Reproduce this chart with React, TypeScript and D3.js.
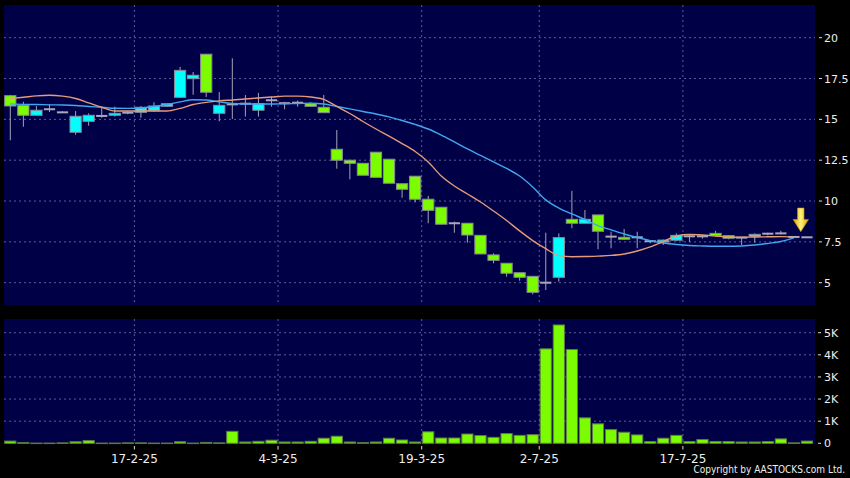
import React from "react";
import * as d3 from "d3";

const dates = [
  "3-2-25","4-2-25","5-2-25","6-2-25","7-2-25","10-2-25","11-2-25","12-2-25","13-2-25","14-2-25",
  "17-2-25","18-2-25","19-2-25","20-2-25","21-2-25","24-2-25","25-2-25","26-2-25","27-2-25","28-2-25",
  "3-3-25","4-3-25","5-3-25","6-3-25","7-3-25","10-3-25","11-3-25","12-3-25","13-3-25","14-3-25",
  "17-3-25","18-3-25","19-3-25","20-3-25","21-3-25","24-3-25","25-3-25","26-3-25","27-3-25","28-3-25",
  "31-3-25","2-7-25","3-7-25","4-7-25","7-7-25","8-7-25","9-7-25","10-7-25","11-7-25","14-7-25",
  "15-7-25","16-7-25","17-7-25","18-7-25","21-7-25","22-7-25","23-7-25","24-7-25","25-7-25","28-7-25",
  "29-7-25","30-7-25",
];

const opens = [16.45,15.86,15.25,15.62,15.43,14.21,14.88,15.21,15.25,15.41,15.43,15.53,15.8,16.35,17.49,18.99,15.37,15.92,15.96,15.56,16.17,15.99,16.02,15.96,15.74,13.17,12.5,12.31,12.99,12.56,11.06,11.52,10.11,9.62,8.64,8.64,7.9,6.7,6.19,5.61,5.39,5.0,5.33,8.88,8.64,9.15,7.82,7.78,7.78,7.54,7.49,7.6,7.84,7.84,8.02,7.88,7.76,7.84,8.0,8.02,7.8,7.78];
const highs = [16.5,16.08,15.82,15.94,15.5,15.51,15.37,15.72,15.78,15.51,15.82,16.05,15.98,18.21,17.9,18.99,16.68,18.74,16.49,16.62,16.39,16.07,16.15,16.05,16.49,14.35,12.5,12.31,12.99,12.56,11.06,11.52,10.31,9.62,8.74,8.64,7.9,6.8,6.19,5.61,5.39,8.06,8.02,10.62,9.45,9.15,8.12,8.29,8.12,7.6,7.64,8.02,7.94,7.88,8.17,7.9,7.8,8.02,8.06,8.18,7.86,7.8];
const lows = [13.72,14.55,15.25,15.45,15.4,14.06,14.61,15.1,15.17,15.31,15.1,15.47,15.78,16.31,16.51,16.37,14.88,15.02,15.17,15.17,15.78,15.62,15.78,15.76,15.41,11.98,11.33,11.58,11.45,11.09,10.2,9.92,8.64,8.58,8.06,7.45,6.76,6.19,5.37,5.12,4.29,4.55,5.06,8.33,8.64,7.05,7.11,7.62,7.11,7.42,7.31,7.55,7.49,7.7,7.88,7.66,7.31,7.45,7.9,7.96,7.74,7.76];
const closes = [15.82,15.25,15.56,15.62,15.43,15.19,15.25,15.21,15.37,15.41,15.74,15.82,15.96,18.0,17.7,16.66,15.86,15.92,15.96,15.96,16.17,15.99,16.02,15.8,15.41,12.5,12.31,11.58,11.45,11.09,10.72,10.11,9.43,8.58,8.64,7.92,6.76,6.37,5.58,5.33,4.41,5.0,7.76,8.64,8.88,8.15,7.82,7.66,7.78,7.54,7.61,7.9,7.84,7.84,7.88,7.72,7.76,7.96,8.0,8.02,7.8,7.78];

// volume in thousands
const volumes = [0.1,0.03,0.01,0.01,0.02,0.07,0.12,0.01,0.01,0.02,0.02,0.01,0.01,0.07,0.01,0.04,0.02,0.54,0.06,0.09,0.14,0.06,0.06,0.09,0.23,0.32,0.06,0.03,0.06,0.23,0.15,0.06,0.52,0.24,0.24,0.42,0.35,0.27,0.44,0.36,0.39,4.27,5.35,4.24,1.15,0.88,0.62,0.5,0.38,0.08,0.23,0.36,0.08,0.17,0.08,0.08,0.06,0.06,0.08,0.2,0.02,0.1];

const maShort = [16.27,16.35,16.44,16.48,16.42,16.28,16.01,15.74,15.51,15.51,15.51,15.51,15.51,15.67,15.91,16.04,16.13,16.19,16.25,16.31,16.37,16.42,16.42,16.37,16.22,15.79,15.36,14.87,14.41,13.98,13.52,13.03,12.39,11.53,10.92,10.43,9.94,9.39,8.81,8.17,7.58,7.08,6.66,6.59,6.6,6.63,6.67,6.76,6.94,7.19,7.52,7.86,7.95,7.92,7.86,7.8,7.78,7.8,7.81,7.82,7.8];
const maLong = [15.94,15.92,15.91,15.89,15.88,15.85,15.79,15.74,15.68,15.67,15.7,15.79,15.91,16.07,16.2,16.19,16.07,15.97,15.94,15.94,15.94,15.96,15.97,15.99,15.94,15.79,15.64,15.48,15.33,15.15,14.93,14.69,14.41,14.04,13.62,13.19,12.79,12.39,12.0,11.53,10.86,10.07,9.57,9.21,8.87,8.5,8.23,7.98,7.77,7.58,7.43,7.34,7.28,7.25,7.23,7.23,7.25,7.31,7.4,7.52,7.74];

const priceTicks = [5, 7.5, 10, 12.5, 15, 17.5, 20];
const volTicks = [0, 1, 2, 3, 4, 5];
const volTickLabels = ["0", "1K", "2K", "3K", "4K", "5K"];
const dateTicks = ["17-2-25", "4-3-25", "19-3-25", "2-7-25", "17-7-25"];

const W = 850;
const H = 478;
const panelL = 4;
const panelR = 815;
const priceTop = 5;
const priceBot = 305;
const volTop = 319;
const volBot = 444;

const GREEN = "#7cfc00";
const CYAN = "#00ffff";
const PANEL = "#000046";
const GRID = "#5c5c98";
const FONT = "DejaVu Sans, sans-serif";

export default function App() {
  const x = d3
    .scaleBand<string>()
    .domain(dates)
    .range([3.77, 813.5])
    .paddingInner(0.14)
    .paddingOuter(0.07);
  const bw = x.bandwidth();
  const step = x.step();
  const cx = (i: number) => (x(dates[i]) as number) + bw / 2;
  const edge = (d: string) => (x(d) as number) - (step * 0.14) / 2;

  const y = d3.scaleLinear().domain([5, 20]).range([282.7, 37.7]);
  const yv = d3.scaleLinear().domain([0, 5]).range([443.3, 332.7]);

  const line = d3
    .line<number>()
    .x((_, i) => cx(i))
    .y((v) => y(v))
    .curve(d3.curveMonotoneX);

  return (
    <svg
      width={W}
      height={H}
      style={{ position: "fixed", left: 0, top: 0, display: "block" }}
      fontFamily={FONT}
    >
      <defs>
        <linearGradient id="arrowGrad" x1="0" x2="1" y1="0" y2="0">
          <stop offset="0" stopColor="#e0a000" />
          <stop offset="0.5" stopColor="#fff27a" />
          <stop offset="1" stopColor="#e0a000" />
        </linearGradient>
      </defs>
      <rect x={0} y={0} width={W} height={H} fill="#000" />
      <rect x={panelL} y={priceTop} width={panelR - panelL} height={priceBot - priceTop} fill={PANEL} />
      <rect x={panelL} y={volTop} width={panelR - panelL} height={volBot - volTop} fill={PANEL} />

      {/* price gridlines */}
      {priceTicks.map((t) => (
        <g key={"pt" + t}>
          <line x1={panelL} x2={panelR} y1={y(t)} y2={y(t)} stroke={GRID} strokeDasharray="2,3" strokeWidth={1} />
          <line x1={819} x2={822} y1={y(t)} y2={y(t)} stroke="#ddd" />
          <text x={824} y={y(t) + 4} fill="#eee" fontSize={11}>
            {t}
          </text>
        </g>
      ))}
      {/* volume gridlines */}
      {volTicks.map((t, i) => (
        <g key={"vt" + t}>
          {t > 0 && (
            <line x1={panelL} x2={panelR} y1={yv(t)} y2={yv(t)} stroke={GRID} strokeDasharray="2,3" strokeWidth={1} />
          )}
          <line x1={818} x2={821} y1={yv(t)} y2={yv(t)} stroke="#ddd" />
          <text x={824} y={yv(t) + 4} fill="#eee" fontSize={11}>
            {volTickLabels[i]}
          </text>
        </g>
      ))}
      {/* vertical date gridlines */}
      {dateTicks.map((d) => (
        <g key={"dt" + d}>
          <line x1={edge(d)} x2={edge(d)} y1={priceTop} y2={priceBot} stroke={GRID} strokeDasharray="2,3" />
          <line x1={edge(d)} x2={edge(d)} y1={volTop} y2={volBot} stroke={GRID} strokeDasharray="2,3" />
          <line x1={edge(d)} x2={edge(d)} y1={446} y2={449.5} stroke="#ddd" />
          <text x={edge(d)} y={462.5} fill="#eee" fontSize={12} textAnchor="middle">
            {d}
          </text>
        </g>
      ))}

      {/* volume bars */}
      {volumes.map((v, i) => (
        <rect
          key={"v" + i}
          x={x(dates[i]) as number}
          y={yv(v)}
          width={bw}
          height={Math.max(0.5, yv(0) - yv(v))}
          fill={GREEN}
          stroke="#5c7a48"
          strokeWidth={1}
        />
      ))}

      {/* candles */}
      {dates.map((d, i) => {
        const o = opens[i];
        const c = closes[i];
        const hi = highs[i];
        const lo = lows[i];
        const xc = cx(i);
        const x0 = x(d) as number;
        const wick = (
          <line x1={xc} x2={xc} y1={y(hi)} y2={y(lo)} stroke="#a4a4b4" strokeWidth={1} />
        );
        if (o === c) {
          return (
            <g key={"c" + i}>
              {wick}
              <rect x={x0} y={y(o) - 1} width={bw} height={2} fill="#a8a8b8" />
            </g>
          );
        }
        const top = y(Math.max(o, c));
        const bot = y(Math.min(o, c));
        return (
          <g key={"c" + i}>
            {wick}
            <rect
              x={x0}
              y={top}
              width={bw}
              height={Math.max(1, bot - top)}
              fill={c > o ? CYAN : GREEN}
              stroke="#8a8a9a"
              strokeWidth={1}
            />
          </g>
        );
      })}

      {/* moving averages */}
      <path d={line(maLong) || ""} fill="none" stroke="#3fa6f0" strokeWidth={1.4} />
      <path d={line(maShort) || ""} fill="none" stroke="#e69a78" strokeWidth={1.4} />

      {/* arrow */}
      <path
        d="M797.5,208 L804,208 L804,219.5 L808.5,219.5 L800.8,231.7 L793.1,219.5 L797.5,219.5 Z"
        fill="url(#arrowGrad)"
        stroke="#c89000"
        strokeWidth={0.6}
      />

      <text
        x={845}
        y={473}
        fill="#eee"
        fontSize={10}
        textAnchor="end"
        fontFamily="'DejaVu Sans Condensed', 'DejaVu Sans', sans-serif"
        fontStretch="condensed"
      >
        Copyright by AASTOCKS.com Ltd.
      </text>
    </svg>
  );
}
